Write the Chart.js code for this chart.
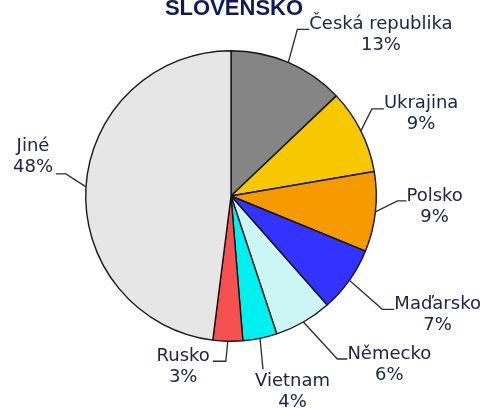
<!DOCTYPE html>
<html>
<head>
<meta charset="utf-8">
<script src="https://cdn.jsdelivr.net/npm/chart.js@4.4.1/dist/chart.umd.min.js"></script>
<style>
  html, body { margin: 0; padding: 0; background: #fff; }
  #wrap { width: 489px; height: 409px; position: relative; }
</style>
</head>
<body>
<div id="wrap"><canvas id="myChart"></canvas></div>
<script>
// data
const categories = ['Česká republika', 'Ukrajina', 'Polsko', 'Maďarsko', 'Německo', 'Vietnam', 'Rusko', 'Jiné'];
const shares = [12.9, 9.4, 8.9, 7.3, 6.4, 3.8, 3.3, 48.0];
const shareLabels = ['13%', '9%', '9%', '7%', '6%', '4%', '3%', '48%'];
const sliceColors = ['#858585', '#F7C800', '#F59A00', '#3333FF', '#CCF5F5', '#00F0F0', '#F65050', '#E6E6E6'];

// label placement: elbow offset from slice edge, horizontal run, text offset
const placement = [
  { elbow: [9, -33], run: 12, text: [0, 0], side: 'right' },
  { elbow: [11, -22], run: 12, text: [0, -1], side: 'right' },
  { elbow: [22, -11], run: 9, text: [0, 0], side: 'right' },
  { elbow: [33, 29], run: 12, text: [0, 0], side: 'right' },
  { elbow: [34, 37], run: 10, text: [0, 0], side: 'right' },
  { elbow: [3, 31], run: 0, text: [-8, 17], side: 'right' },
  { elbow: [-2, 20], run: -13, text: [-3, 0], side: 'left' },
  { elbow: [-20, -13], run: -10, text: [-3, -23], side: 'left' }
];

// leader lines + labels + title
const pieLabels = {
  id: 'pieLabels',
  afterDraw(chart) {
    const ctx = chart.ctx;
    const arcs = chart.getDatasetMeta(0).data;
    ctx.save();
    ctx.font = '18px "DejaVu Sans"';
    arcs.forEach((arc, i) => {
      const p = placement[i];
      const mid = (arc.startAngle + arc.endAngle) / 2;
      const ex = arc.x + Math.cos(mid) * arc.outerRadius;
      const ey = arc.y + Math.sin(mid) * arc.outerRadius;
      const bx = ex + p.elbow[0];
      const by = ey + p.elbow[1];
      const lx = bx + p.run;

      ctx.beginPath();
      ctx.moveTo(ex, ey);
      ctx.lineTo(bx, by);
      ctx.lineTo(lx, by);
      ctx.strokeStyle = '#2e2e2e';
      ctx.lineWidth = 1.3;
      ctx.stroke();

      const name = categories[i];
      const pct = shareLabels[i];
      const w = Math.max(ctx.measureText(name).width, ctx.measureText(pct).width);
      const ax = lx + p.text[0];
      const cx = p.side === 'right' ? ax + w / 2 : ax - w / 2;
      const baseY = by + p.text[1];
      ctx.fillStyle = '#22224e';
      ctx.textAlign = 'center';
      ctx.textBaseline = 'alphabetic';
      ctx.fillText(name, cx, baseY);
      ctx.fillText(pct, cx, baseY + 21);
    });

    ctx.font = 'bold 22px "Liberation Sans"';
    ctx.fillStyle = '#10185a';
    ctx.textAlign = 'center';
    ctx.fillText('SLOVENSKO', 234, 15);
    ctx.restore();
  }
};

const data = {
  labels: categories,
  datasets: [{
    data: shares,
    backgroundColor: sliceColors,
    borderColor: '#161616',
    borderWidth: 1.4
  }]
};

const config = {
  type: 'pie',
  data,
  options: {
    responsive: true,
    maintainAspectRatio: false,
    animation: false,
    layout: { padding: { left: 85, top: 50, right: 112, bottom: 67 } },
    plugins: {
      legend: { display: false },
      tooltip: { enabled: false }
    }
  },
  plugins: [pieLabels]
};

const myChart = new Chart(document.getElementById('myChart'), config);
</script>
</body>
</html>
